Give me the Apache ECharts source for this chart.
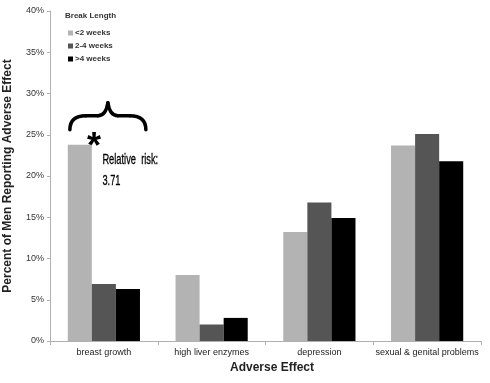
<!DOCTYPE html>
<html><head><meta charset="utf-8">
<script src="https://cdn.jsdelivr.net/npm/echarts@6/dist/echarts.min.js"></script>
<style>html,body{margin:0;padding:0;background:#fff}#c{width:490px;height:383px}</style>
</head><body><div id="c"></div>
<script>
var categories = ['breast growth', 'high liver enzymes', 'depression', 'sexual & genital problems'];
var seriesNames = ['<2 weeks', '2-4 weeks', '>4 weeks'];
var lt2 = [23.8, 8.0, 13.2, 23.7];
var w2to4 = [6.9, 2.0, 16.8, 25.1];
var gt4 = [6.3, 2.8, 14.9, 21.8];
var yTicks = [0, 5, 10, 15, 20, 25, 30, 35, 40];
var colors = ['#b3b3b3', '#555555', '#000000'];

var chart = echarts.init(document.getElementById('c'), null, {renderer: 'canvas'});
var F = '"Liberation Sans", Arial, sans-serif';
function bar(name, data, color) {
  return {name: name, type: 'bar', data: data, barGap: 0, barCategoryGap: '33%',
    itemStyle: {color: color}, animation: false};
}
chart.setOption({
  animation: false,
  backgroundColor: '#fff',
  grid: {left: 50, right: 9, top: 11, bottom: 42, containLabel: false, outerBoundsMode: 'none'},
  legend: {
    orient: 'vertical', left: 63, top: 24, itemWidth: 5, itemHeight: 5, itemGap: 5,
    icon: 'rect', data: seriesNames,
    textStyle: {fontFamily: F, fontSize: 8, color: '#333', fontWeight: 'bold', padding: [0,0,0,-3]}
  },
  xAxis: {
    type: 'category', data: categories,
    name: 'Adverse Effect', nameLocation: 'middle', nameGap: 20,
    nameTextStyle: {fontFamily: F, fontSize: 12, fontWeight: 'bold', color: '#222', padding: [0, 0, 0, 13]},
    axisLine: {lineStyle: {color: '#b0b0b0'}},
    axisTick: {show: true, length: 4, lineStyle: {color: '#b0b0b0'}},
    axisLabel: {fontFamily: F, fontSize: 9, color: '#222', margin: 7, interval: 0, hideOverlap: false}
  },
  yAxis: {
    type: 'value', min: yTicks[0], max: yTicks[yTicks.length-1], interval: 5,
    name: 'Percent of Men Reporting Adverse Effect', nameLocation: 'middle', nameGap: 36,
    nameTextStyle: {fontFamily: F, fontSize: 12, fontWeight: 'bold', color: '#222'},
    axisLine: {show: true, lineStyle: {color: '#b0b0b0'}},
    axisTick: {show: true, length: 3, lineStyle: {color: '#b0b0b0'}},
    splitLine: {show: false},
    axisLabel: {fontFamily: F, fontSize: 9, color: '#333', margin: 6, formatter: '{value}%'}
  },
  series: [bar(seriesNames[0], lt2, colors[0]), bar(seriesNames[1], w2to4, colors[1]), bar(seriesNames[2], gt4, colors[2])]
});

var c0 = chart.convertToPixel({xAxisIndex: 0, yAxisIndex: 0}, [categories[0], 25.6]);
var cx = c0[0] + 4, by = c0[1];
var bs = {fill: null, stroke: '#000', lineWidth: 3.5, lineCap: 'round'};
function bz(x1, y1, cpx, cpy, x2, y2) {
  return {type: 'bezierCurve', shape: {x1: cx + x1, y1: by + y1, cpx1: cx + cpx, cpy1: by + cpy, x2: cx + x2, y2: by + y2}, style: bs};
}
function ln(x1, y1, x2, y2) {
  return {type: 'line', shape: {x1: cx + x1, y1: by + y1, x2: cx + x2, y2: by + y2}, style: bs};
}
var star = chart.convertToPixel({xAxisIndex: 0, yAxisIndex: 0}, [categories[0], 24.0]);
var txt = chart.convertToPixel({xAxisIndex: 0, yAxisIndex: 0}, [categories[0], 22.5]);
chart.setOption({
  graphic: [
    {type: 'text', left: 65, top: 12, style: {text: 'Break Length', font: 'bold 8px ' + F, fill: '#333'}},
    bz(-38, 0, -38, -14, -22, -14), ln(-22, -14, -10, -14), bz(-10, -14, -2, -14, 0, -27),
    bz(0, -27, 2, -14, 10, -14), ln(10, -14, 22, -14), bz(22, -14, 38, -14, 38, 0),
    {type: 'text', x: star[0] - 17, y: star[1] - 13, style: {text: '*', font: 'bold 36px ' + F, fill: '#000', textVerticalAlign: 'top'}},
    {type: 'text', x: txt[0] - 1.5, y: txt[1] - 6, scaleX: 0.62, style: {text: 'Relative  risk:\n3.71', font: '15px ' + F, lineHeight: 21, fill: '#000', stroke: '#000', lineWidth: 0.3, textVerticalAlign: 'top'}}
  ]
});
</script></body></html>
